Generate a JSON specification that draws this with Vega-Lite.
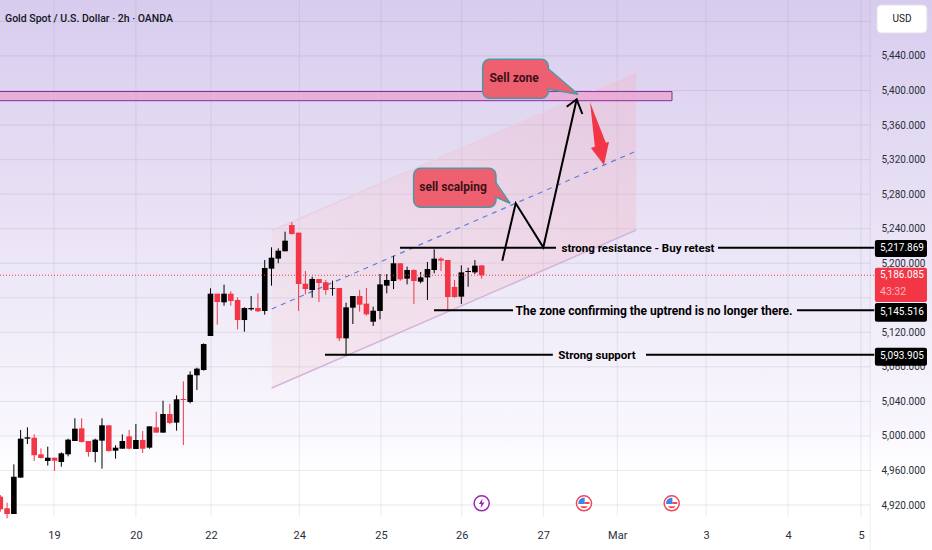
{
  "$schema": "https://vega.github.io/schema/vega-lite/v6.json",
  "width": 932,
  "height": 550,
  "padding": 0,
  "autosize": {"type": "none"},
  "background": "#ffffff",
  "view": {
    "stroke": null,
    "fill": {
      "gradient": "linear", "x1": 0, "y1": 0, "x2": 0, "y2": 1,
      "stops": [
        {"offset": 0, "color": "#d8ccee"},
        {"offset": 0.45, "color": "#ebe5f6"},
        {"offset": 0.78, "color": "#f9f7fd"},
        {"offset": 0.86, "color": "#ffffff"},
        {"offset": 1, "color": "#ffffff"}
      ]
    }
  },
  "config": {
    "text": {"font": "Roboto"},
    "axis": {"labelFont": "Roboto", "labelColor": "#2a2e39", "domain": false, "ticks": false, "grid": false, "title": null}
  },
  "resolve": {"scale": {"color": "independent"}},
  "datasets": {
    "candles": [
      {"n":0,"dir":"down","open":4929.7,"high":4931.6,"low":4912.3,"close":4915},
      {"n":1,"dir":"down","open":4916.2,"high":4922.7,"low":4904.6,"close":4909.6},
      {"n":2,"dir":"up","open":4909.6,"high":4967.1,"low":4909.6,"close":4952.8},
      {"n":3,"dir":"up","open":4951.7,"high":5006.9,"low":4951.7,"close":4996.8},
      {"n":4,"dir":"up","open":4996.8,"high":5009.9,"low":4990.6,"close":4998.4},
      {"n":5,"dir":"down","open":4998,"high":5001.8,"low":4971,"close":4977.5},
      {"n":6,"dir":"down","open":4978.7,"high":4985.6,"low":4973.7,"close":4974.4},
      {"n":7,"dir":"up","open":4971,"high":4987.6,"low":4965.6,"close":4974.8},
      {"n":8,"dir":"down","open":4974.8,"high":4974.8,"low":4959.4,"close":4971.3},
      {"n":9,"dir":"up","open":4969.8,"high":4981,"low":4964.4,"close":4979.8},
      {"n":10,"dir":"up","open":4978.7,"high":4996.8,"low":4976.4,"close":4995.7},
      {"n":11,"dir":"up","open":4994.1,"high":5020.4,"low":4994.1,"close":5008.4},
      {"n":12,"dir":"down","open":5008.8,"high":5020.4,"low":4992.2,"close":4993},
      {"n":13,"dir":"down","open":4994.1,"high":4994.1,"low":4976,"close":4981.4},
      {"n":14,"dir":"up","open":4981.4,"high":4996.8,"low":4969.4,"close":4995.7},
      {"n":15,"dir":"up","open":4994.5,"high":5020.4,"low":4962.1,"close":5012.3},
      {"n":16,"dir":"down","open":5012.3,"high":5012.3,"low":4981.8,"close":4982.5},
      {"n":17,"dir":"up","open":4982.9,"high":4989.1,"low":4973.7,"close":4986.4},
      {"n":18,"dir":"up","open":4985.2,"high":5001.8,"low":4985.2,"close":4994.1},
      {"n":19,"dir":"down","open":4999.5,"high":5006.9,"low":4984.5,"close":4985.2},
      {"n":20,"dir":"up","open":4984.9,"high":5013.8,"low":4984.9,"close":4995.3},
      {"n":21,"dir":"down","open":4995.3,"high":5005.7,"low":4980.2,"close":4985.2},
      {"n":22,"dir":"up","open":4986.4,"high":5011.1,"low":4985.2,"close":5011.1},
      {"n":23,"dir":"down","open":5009.9,"high":5028.1,"low":5003.8,"close":5003.8},
      {"n":24,"dir":"up","open":5003.8,"high":5040.8,"low":5003.8,"close":5025.4},
      {"n":25,"dir":"down","open":5025.4,"high":5037,"low":5013.8,"close":5015},
      {"n":26,"dir":"up","open":5015.4,"high":5047,"low":5006.1,"close":5042.4},
      {"n":27,"dir":"down","open":5042.8,"high":5063.2,"low":4989.5,"close":5041.6},
      {"n":28,"dir":"up","open":5039.3,"high":5074.8,"low":5037.7,"close":5070.9},
      {"n":29,"dir":"up","open":5070.2,"high":5079,"low":5053.2,"close":5077.9},
      {"n":30,"dir":"up","open":5076.3,"high":5107.2,"low":5075.6,"close":5106.4},
      {"n":31,"dir":"up","open":5115.7,"high":5170.9,"low":5115.7,"close":5164.7},
      {"n":32,"dir":"down","open":5164.7,"high":5164.7,"low":5128.8,"close":5155.1},
      {"n":33,"dir":"up","open":5154.7,"high":5175.2,"low":5150.8,"close":5164.7},
      {"n":34,"dir":"down","open":5164.7,"high":5167.4,"low":5150.8,"close":5156.2},
      {"n":35,"dir":"down","open":5157.4,"high":5160.5,"low":5123.4,"close":5134.2},
      {"n":36,"dir":"up","open":5134.2,"high":5148.9,"low":5120.7,"close":5148.1},
      {"n":37,"dir":"up","open":5146.6,"high":5162,"low":5145,"close":5148.1},
      {"n":38,"dir":"down","open":5148.1,"high":5165.1,"low":5143.5,"close":5144.3},
      {"n":39,"dir":"up","open":5144.7,"high":5203.7,"low":5140.4,"close":5194.5},
      {"n":40,"dir":"up","open":5193.7,"high":5218.4,"low":5174,"close":5206.4},
      {"n":41,"dir":"up","open":5205.3,"high":5217.2,"low":5199.9,"close":5214.5},
      {"n":42,"dir":"up","open":5213.8,"high":5236.5,"low":5213.8,"close":5226.1},
      {"n":43,"dir":"down","open":5244.2,"high":5247.7,"low":5233.1,"close":5233.8},
      {"n":44,"dir":"down","open":5235.4,"high":5235.4,"low":5144.7,"close":5175.9},
      {"n":45,"dir":"down","open":5176.3,"high":5191,"low":5164,"close":5170.1},
      {"n":46,"dir":"up","open":5169,"high":5184.4,"low":5160.1,"close":5181.7},
      {"n":47,"dir":"down","open":5181.7,"high":5181.7,"low":5155.1,"close":5177.1},
      {"n":48,"dir":"down","open":5177.9,"high":5180.6,"low":5163.6,"close":5169},
      {"n":49,"dir":"up","open":5170.5,"high":5179.8,"low":5162.4,"close":5171.3},
      {"n":50,"dir":"down","open":5171.3,"high":5171.3,"low":5109.9,"close":5113},
      {"n":51,"dir":"up","open":5113,"high":5154.3,"low":5092.6,"close":5148.9},
      {"n":52,"dir":"up","open":5148.5,"high":5162,"low":5129.6,"close":5162},
      {"n":53,"dir":"down","open":5162,"high":5169,"low":5143.9,"close":5152},
      {"n":54,"dir":"down","open":5153.2,"high":5171.3,"low":5139.3,"close":5140.8},
      {"n":55,"dir":"up","open":5132.3,"high":5149.7,"low":5127.3,"close":5145},
      {"n":56,"dir":"up","open":5144.7,"high":5187.5,"low":5135,"close":5175.5},
      {"n":57,"dir":"up","open":5174,"high":5187.5,"low":5165.1,"close":5180.6},
      {"n":58,"dir":"up","open":5179.4,"high":5208.7,"low":5170.1,"close":5199.9},
      {"n":59,"dir":"down","open":5199.9,"high":5199.9,"low":5179.8,"close":5181.3},
      {"n":60,"dir":"up","open":5182.1,"high":5196,"low":5175.5,"close":5192.1},
      {"n":61,"dir":"down","open":5192.1,"high":5192.9,"low":5152.8,"close":5179.4},
      {"n":62,"dir":"up","open":5178.6,"high":5189.8,"low":5176.7,"close":5183.6},
      {"n":63,"dir":"up","open":5183.6,"high":5201.4,"low":5157.4,"close":5193.3},
      {"n":64,"dir":"up","open":5192.1,"high":5216.1,"low":5188.3,"close":5205.3},
      {"n":65,"dir":"down","open":5205.3,"high":5206.8,"low":5191,"close":5202.9},
      {"n":66,"dir":"down","open":5203.7,"high":5203.7,"low":5145,"close":5160.9},
      {"n":67,"dir":"down","open":5172.5,"high":5180.6,"low":5160.1,"close":5160.9},
      {"n":68,"dir":"up","open":5161.3,"high":5197.5,"low":5152.8,"close":5189.4},
      {"n":69,"dir":"up","open":5189.8,"high":5194.8,"low":5172.8,"close":5191},
      {"n":70,"dir":"up","open":5189.4,"high":5203.7,"low":5187.5,"close":5197.2},
      {"n":71,"dir":"down","open":5197.5,"high":5197.5,"low":5182.1,"close":5186.085}
    ],
    "gridY": [
      {"n":-0.04,"n2":128.3,"p":4920},{"n":-0.04,"n2":128.3,"p":4960},{"n":-0.04,"n2":128.3,"p":5000},{"n":-0.04,"n2":128.3,"p":5040},
      {"n":-0.04,"n2":128.3,"p":5080},{"n":-0.04,"n2":128.3,"p":5120},{"n":-0.04,"n2":128.3,"p":5160},{"n":-0.04,"n2":128.3,"p":5200},
      {"n":-0.04,"n2":128.3,"p":5240},{"n":-0.04,"n2":128.3,"p":5280},{"n":-0.04,"n2":128.3,"p":5320},{"n":-0.04,"n2":128.3,"p":5360},
      {"n":-0.04,"n2":128.3,"p":5400},{"n":-0.04,"n2":128.3,"p":5440},{"n":-0.04,"n2":128.3,"p":5480}
    ],
    "gridX": [
      {"n":7.92,"p":4906,"p2":5504.8},{"n":20,"p":4906,"p2":5504.8},{"n":31.08,"p":4906,"p2":5504.8},{"n":44.1,"p":4906,"p2":5504.8},
      {"n":56.15,"p":4906,"p2":5504.8},{"n":68.05,"p":4906,"p2":5504.8},{"n":80.09,"p":4906,"p2":5504.8},{"n":91,"p":4906,"p2":5504.8},
      {"n":104.1,"p":4906,"p2":5504.8},{"n":116.2,"p":4906,"p2":5504.8},{"n":126.95,"p":4906,"p2":5504.8},{"n":128.3,"p":4867.9,"p2":5504.8}
    ],
    "levels": [
      {"n":58.95,"n2":81.96,"p":5217.869},{"n":105.85,"n2":128.9,"p":5217.869},
      {"n":63.97,"n2":75.62,"p":5145.516},{"n":117.5,"n2":128.9,"p":5145.516},
      {"n":47.89,"n2":81.5,"p":5093.905},{"n":95.24,"n2":128.9,"p":5093.905}
    ],
    "tags": [
      {"n":129,"n2":136.68,"p":5226.9,"p2":5207.2,"kind":"level"},
      {"n":129,"n2":136.68,"p":5194.8,"p2":5155,"kind":"last"},
      {"n":129,"n2":136.68,"p":5153.9,"p2":5132.3,"kind":"level"},
      {"n":129,"n2":136.68,"p":5102.2,"p2":5081.3,"kind":"level"}
    ]
  },
  "encoding": {
    "x": {
      "field": "n", "type": "quantitative",
      "scale": {"domain": [-0.044, 137.42], "nice": false, "zero": false, "padding": 0},
      "axis": {
        "orient": "bottom", "offset": -32, "labelPadding": 11, "labelFontSize": 11,
        "values": [7.92, 20, 31.08, 44.1, 56.15, 68.05, 80.09, 91, 104.1, 116.2, 126.95],
        "labelExpr": "{'7.92':'19','20':'20','31.08':'22','44.1':'24','56.15':'25','68.05':'26','80.09':'27','91':'Mar','104.1':'3','116.2':'4','126.95':'5'}[''+datum.value]",
        "labelOverlap": false
      },
      "title": null
    },
    "y": {
      "field": "p", "type": "quantitative",
      "scale": {"domain": [4867.9, 5504.8], "nice": false, "zero": false},
      "axis": {
        "orient": "right", "offset": -62, "labelPadding": 11, "labelFontSize": 10, "format": ",.3f",
        "values": [4920, 4960, 5000, 5040, 5080, 5120, 5200, 5240, 5280, 5320, 5360, 5400, 5440],
        "labelOverlap": false
      },
      "title": null
    }
  },
  "layer": [
    {
      "data": {"name": "gridY"},
      "mark": {"type": "rule", "stroke": "#76768c", "strokeOpacity": 0.16, "strokeWidth": 1},
      "encoding": {"x2": {"field": "n2"}}
    },
    {
      "data": {"name": "gridX"},
      "mark": {"type": "rule", "stroke": "#76768c", "strokeOpacity": 0.14, "strokeWidth": 1},
      "encoding": {"y2": {"field": "p2"}}
    },
    {
      "data": {"values": [{"n":40.03,"p":5237.6,"p2":5055.5},{"n":93.8,"p":5421.4,"p2":5238.5}]},
      "mark": {
        "type": "area", "opacity": 0.24,
        "color": {
          "gradient": "linear", "x1": 0, "y1": 0, "x2": 1, "y2": 0,
          "stops": [{"offset": 0, "color": "#f6c8d0"}, {"offset": 1, "color": "#f8a4b0"}]
        }
      },
      "encoding": {"y2": {"field": "p2"}}
    },
    {
      "data": {"values": [
        {"n":40.03,"p":5237.6,"edge":"upper"},{"n":93.8,"p":5421.4,"edge":"upper"},
        {"n":40.03,"p":5055.5,"edge":"lower"},{"n":93.8,"p":5238.5,"edge":"lower"}
      ]},
      "mark": {"type": "line", "strokeWidth": 1.5},
      "encoding": {
        "color": {"field": "edge", "type": "nominal", "scale": {"domain": ["upper", "lower"], "range": ["#e9cfe4", "#d3b4da"]}, "legend": null}
      }
    },
    {
      "data": {"values": [{"n":-1,"n2":99.07,"p":5398.8,"p2":5388.2}]},
      "mark": {"type": "rect", "fill": "#e8a6d2", "fillOpacity": 0.8, "stroke": "#8e2aa8", "strokeWidth": 1},
      "encoding": {"x2": {"field": "n2"}, "y2": {"field": "p2"}}
    },
    {
      "data": {"values": [{"n":40.03,"p":5147},{"n":93.8,"p":5329.9}]},
      "mark": {"type": "line", "stroke": "#5b7fe0", "strokeWidth": 1.2, "strokeDash": [5, 5]},
      "encoding": {}
    },
    {
      "data": {"name": "candles"},
      "mark": {"type": "rule", "strokeWidth": 1},
      "encoding": {
        "y": {
          "field": "high", "type": "quantitative", "title": null,
          "scale": {"domain": [4867.9, 5504.8], "nice": false, "zero": false},
          "axis": {
            "orient": "right", "offset": -62, "labelPadding": 11, "labelFontSize": 10, "format": ",.3f",
            "values": [4920, 4960, 5000, 5040, 5080, 5120, 5200, 5240, 5280, 5320, 5360, 5400, 5440],
            "labelOverlap": false
          }
        },
        "y2": {"field": "low"},
        "color": {"field": "dir", "type": "nominal", "scale": {"domain": ["up", "down"], "range": ["#000000", "#f23645"]}, "legend": null}
      }
    },
    {
      "data": {"name": "candles"},
      "mark": {"type": "bar", "size": 5.6},
      "encoding": {
        "y": {
          "field": "open", "type": "quantitative", "title": null,
          "scale": {"domain": [4867.9, 5504.8], "nice": false, "zero": false},
          "axis": {
            "orient": "right", "offset": -62, "labelPadding": 11, "labelFontSize": 10, "format": ",.3f",
            "values": [4920, 4960, 5000, 5040, 5080, 5120, 5200, 5240, 5280, 5320, 5360, 5400, 5440],
            "labelOverlap": false
          }
        },
        "y2": {"field": "close"},
        "color": {"field": "dir", "type": "nominal", "scale": {"domain": ["up", "down"], "range": ["#000000", "#f23645"]}, "legend": null}
      }
    },
    {
      "data": {"values": [{"n":-0.044,"n2":129,"p":5186.085}]},
      "mark": {"type": "rule", "stroke": "#f23645", "strokeWidth": 1, "strokeDash": [1, 2]},
      "encoding": {"x2": {"field": "n2"}}
    },
    {
      "data": {"name": "levels"},
      "mark": {"type": "rule", "stroke": "#000000", "strokeWidth": 2},
      "encoding": {"x2": {"field": "n2"}}
    },
    {
      "data": {"values": [
        {"n":74.04,"p":5202.9,"path":"trend"},{"n":76.02,"p":5269.4,"path":"trend"},{"n":80.09,"p":5218.4,"path":"trend"},{"n":85.01,"p":5389.8,"path":"trend"},
        {"n":83.54,"p":5381.2,"path":"head"},{"n":85.01,"p":5389.8,"path":"head"},{"n":85.85,"p":5372.8,"path":"head"}
      ]},
      "mark": {"type": "line", "stroke": "#000000", "strokeWidth": 2},
      "encoding": {"detail": {"field": "path"}}
    },
    {
      "data": {"values": [
        {"n":86.98,"p":5386.7,"p2":5386.7,"part":"shaft"},{"n":87.7,"p":5371.6,"p2":5334.6,"part":"shaft"},{"n":89.33,"p":5339.2,"p2":5339.2,"part":"shaft"},
        {"n":87.12,"p":5333.4,"p2":5333.4,"part":"head"},{"n":89.04,"p":5339,"p2":5313.7,"part":"head"},{"n":89.78,"p":5340.7,"p2":5340.7,"part":"head"}
      ]},
      "mark": {"type": "area", "color": "#f23645"},
      "encoding": {"y2": {"field": "p2"}, "detail": {"field": "part"}}
    },
    {
      "data": {"values": [
        {"n":71.15,"n2":80.83,"p":5436.1,"p2":5391},
        {"n":60.96,"n2":73.11,"p":5309.9,"p2":5264.7}
      ]},
      "mark": {"type": "rect", "fill": "#ee6070", "stroke": "#4f97a6", "strokeWidth": 1.5, "cornerRadius": 7},
      "encoding": {"x2": {"field": "n2"}, "y2": {"field": "p2"}}
    },
    {
      "data": {"values": [
        {"n":80.56,"p":5426,"p2":5401.7,"box":"zone"},{"n":85.21,"p":5395.6,"p2":5395.6,"box":"zone"},
        {"n":72.89,"p":5294.4,"p2":5277,"box":"scalp"},{"n":75.18,"p":5269.4,"p2":5269.4,"box":"scalp"}
      ]},
      "mark": {"type": "area", "color": "#ee6070"},
      "encoding": {"y2": {"field": "p2"}, "detail": {"field": "box"}}
    },
    {
      "data": {"values": [
        {"n":80.7,"p":5426,"edge":"a"},{"n":85.21,"p":5395.6,"edge":"a"},
        {"n":80.7,"p":5401.7,"edge":"b"},{"n":85.21,"p":5395.6,"edge":"b"},
        {"n":73,"p":5294.4,"edge":"c"},{"n":75.18,"p":5269.4,"edge":"c"},
        {"n":73,"p":5277,"edge":"d"},{"n":75.18,"p":5269.4,"edge":"d"}
      ]},
      "mark": {"type": "line", "stroke": "#4f97a6", "strokeWidth": 1.5},
      "encoding": {"detail": {"field": "edge"}}
    },
    {
      "data": {"values": [
        {"n":75.77,"p":5414.5,"label":"Sell zone"},
        {"n":66.77,"p":5288.2,"label":"sell scalping"}
      ]},
      "mark": {"type": "text", "fontSize": 12, "fontWeight": "bold", "color": "#3b1218"},
      "encoding": {"text": {"field": "label"}}
    },
    {
      "data": {"values": [
        {"n":94.06,"p":5217,"label":"strong resistance - Buy retest"},
        {"n":88,"p":5093,"label":"Strong support"}
      ]},
      "mark": {"type": "text", "fontSize": 11.5, "fontWeight": "bold", "color": "#000000"},
      "encoding": {"text": {"field": "label"}}
    },
    {
      "data": {"values": [
        {"n":96.42,"p":5145,"label":"The zone confirming the uptrend is no longer there."}
      ]},
      "mark": {"type": "text", "fontSize": 12, "fontWeight": "bold", "color": "#000000"},
      "encoding": {"text": {"field": "label"}}
    },
    {
      "data": {"name": "tags"},
      "mark": {"type": "rect", "cornerRadius": 2},
      "encoding": {
        "x2": {"field": "n2"}, "y2": {"field": "p2"},
        "color": {"field": "kind", "type": "nominal", "scale": {"domain": ["level", "last"], "range": ["#000000", "#f23645"]}, "legend": null}
      }
    },
    {
      "data": {"values": [
        {"n":129.75,"p":5217.3,"label":"5,217.869"},
        {"n":129.75,"p":5186.085,"label":"5,186.085"},
        {"n":129.75,"p":5143.6,"label":"5,145.516"},
        {"n":129.75,"p":5092,"label":"5,093.905"}
      ]},
      "mark": {"type": "text", "align": "left", "fontSize": 10, "color": "#ffffff"},
      "encoding": {"text": {"field": "label"}}
    },
    {
      "data": {"values": [{"n":129.75,"p":5166.7,"label":"43:32"}]},
      "mark": {"type": "text", "align": "left", "fontSize": 10.5, "color": "#ffb3ba"},
      "encoding": {"text": {"field": "label"}}
    },
    {
      "data": {"values": [{"n":129.3,"n2":136.68,"p":5499,"p2":5466.6}]},
      "mark": {"type": "rect", "fill": "#ffffff", "stroke": "#dfe1ea", "strokeWidth": 1, "cornerRadius": 4},
      "encoding": {"x2": {"field": "n2"}, "y2": {"field": "p2"}}
    },
    {
      "data": {"values": [{"n":133,"p":5482.8,"label":"USD"}]},
      "mark": {"type": "text", "fontSize": 10, "color": "#131722"},
      "encoding": {"text": {"field": "label"}}
    },
    {
      "data": {"values": [{"n":0.69,"p":5482.8,"label":"Gold Spot / U.S. Dollar · 2h · OANDA"}]},
      "mark": {"type": "text", "align": "left", "fontSize": 10.5, "fontWeight": 500, "color": "#131722"},
      "encoding": {"text": {"field": "label"}}
    },
    {
      "data": {"values": [{"n":71,"p":4922,"event":"power"},{"n":86.09,"p":4922,"event":"us"},{"n":99.03,"p":4922,"event":"us"}]},
      "mark": {"type": "point", "filled": false, "fill": "#ffffff", "fillOpacity": 1, "size": 230, "strokeWidth": 1.5},
      "encoding": {
        "color": {"field": "event", "type": "nominal", "scale": {"domain": ["power", "us"], "range": ["#9c27b0", "#ef4756"]}, "legend": null}
      }
    },
    {
      "data": {"values": [{"n":71,"p":4922}]},
      "mark": {"type": "point", "filled": true, "color": "#9c27b0", "size": 196, "opacity": 1, "shape": "M0.12,-0.7 L-0.4,0.1 L-0.05,0.1 L-0.15,0.7 L0.4,-0.1 L0.05,-0.1 Z"},
      "encoding": {}
    },
    {
      "data": {"values": [{"n":86.09,"p":4922},{"n":99.03,"p":4922}]},
      "mark": {"type": "point", "filled": true, "color": "#3d84e6", "size": 196, "opacity": 1, "shape": "M-0.8,0.1 A0.8,0.8 0 0 1 0.1,-0.8 L0.1,0.1 Z"},
      "encoding": {}
    },
    {
      "data": {"values": [{"n":86.09,"p":4922},{"n":99.03,"p":4922}]},
      "mark": {"type": "point", "filled": true, "color": "#ef4756", "size": 196, "opacity": 1, "shape": "M0.1,-0.2 L0.78,-0.2 L0.8,0.1 L0.1,0.1 Z M-0.55,0.42 L0.55,0.42 A0.68,0.68 0 0 1 -0.55,0.42 Z"},
      "encoding": {}
    }
  ]
}
